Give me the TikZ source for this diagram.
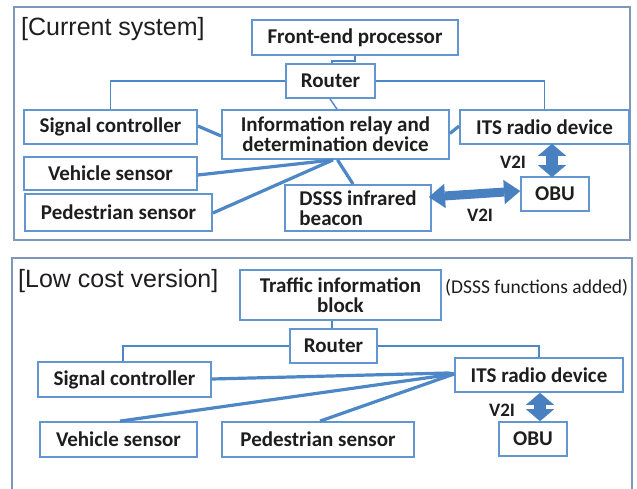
\documentclass[tikz,border=0pt]{standalone}
\usepackage{fontspec}
\setmainfont{Carlito}
\newfontfamily\labelfont{Liberation Sans}
\usetikzlibrary{arrows.meta}

\definecolor{boxline}{RGB}{98,150,208}
\definecolor{frameline}{RGB}{125,152,185}
\definecolor{linkblue}{RGB}{78,135,198}
\definecolor{arrowblue}{RGB}{72,128,192}
\definecolor{inktext}{RGB}{30,30,30}

\begin{document}
\begin{tikzpicture}[x=1pt,y=-1pt,
  box/.style={draw=boxline, line width=1.8pt, fill=white, inner sep=0pt,
    text=inktext, font=\fontsize{21}{20}\selectfont\bfseries},
  frame/.style={draw=frameline, line width=1.8pt},
  thinlink/.style={draw=linkblue, line width=1.4pt},
  thicklink/.style={draw=linkblue, line width=3.2pt},
  v2ilabel/.style={text=inktext, inner sep=0pt, font=\fontsize{19}{21}\selectfont\bfseries},
  sectionlabel/.style={anchor=base west, inner sep=0pt, text=inktext,
    font=\labelfont\fontsize{25}{28}\selectfont},
  harrow/.style={draw=arrowblue, line width=9pt,
    {Triangle[width=24pt,length=16pt,line width=0.01pt]}-{Triangle[width=24pt,length=16pt,line width=0.01pt]}},
  varrow/.style={draw=arrowblue, line width=12pt,
    {Triangle[width=28pt,length=12pt,line width=0.01pt]}-{Triangle[width=28pt,length=12pt,line width=0.01pt]}},
]
\useasboundingbox (0,0) rectangle (637,488);
\fill[white] (0,0) rectangle (637,488);

% ---------- current system ----------
\draw[frame] (14,7) rectangle (630,240);
\node[sectionlabel] (title1) at (21,35) {[Current system]};

\node[box, minimum width=206, minimum height=35] (fep) at (355,37.5) {Front-end processor};
\node[box, minimum width=89, minimum height=34] (rt1) at (330.5,81) {Router};
\node[box, minimum width=173, minimum height=34] (sc1) at (110.5,127) {Signal controller};
\node[box, minimum width=227, minimum height=49, align=center] (info) at (335.5,134.5)
  {Information relay and\\determination device};
\node[box, minimum width=169, minimum height=34] (its1) at (544.5,127) {ITS radio device};
\node[box, minimum width=173, minimum height=33] (veh1) at (110.5,173.5) {Vehicle sensor};
\node[box, minimum width=187, minimum height=37] (ped1) at (118.5,212.5) {Pedestrian sensor};
\node[box, minimum width=146, minimum height=46, align=left] (dsss) at (358,208)
  {DSSS infrared\\beacon};
\node[box, minimum width=68, minimum height=34] (obu1) at (555,194) {OBU};

% router links
\draw[thinlink] (fep.south) -- ++(0,5) -| ([xshift=1.5]rt1.north);
\draw[thinlink] (rt1.west) -| (sc1.north);
\draw[thinlink] (rt1.east) -| (its1.north);
\draw[thinlink] ([xshift=-0.5]rt1.south) -- ([xshift=1.5]info.north);

% relay device links
\draw[thicklink] ([yshift=1]sc1.east) -- ([yshift=-1.5]info.west);
\draw[thicklink] ([yshift=1]info.east) -- ([yshift=1]its1.west);
\draw[thicklink] ([yshift=-1.5]veh1.east) -- ([xshift=-2.5]info.south);
\draw[thicklink] ([yshift=-0.5]ped1.east) -- ([xshift=-2.5]info.south);
\draw[thicklink] ([xshift=-5]dsss.north) -- ([xshift=2]info.south);

% V2I radio paths
\draw[harrow] ([xshift=-3]dsss.east |- 0,197) -- ([yshift=3]obu1.west);
\draw[varrow] ([xshift=7.5,yshift=1]its1.south) -- ([xshift=-3,yshift=-1]obu1.north);
\node[v2ilabel] (v2ia) at (513,162) {V2I};
\node[v2ilabel] (v2ib) at (480,215) {V2I};

% ---------- low cost version ----------
\draw[frame] (12,500) -- (12,258) -- (632,258) -- (632,500);
\node[sectionlabel] (title2) at (18,287) {[Low cost version]};

\node[box, minimum width=201, minimum height=50, align=center] (tib) at (340.5,295)
  {Traffic information\\block};
\node[anchor=base west, inner sep=0pt, text=inktext, font=\fontsize{19.5}{22}\selectfont]
  (note) at (445,293) {(DSSS functions added)};
\node[box, minimum width=87, minimum height=34] (rt2) at (333.5,346) {Router};
\node[box, minimum width=173, minimum height=35] (sc2) at (124.5,379.5) {Signal controller};
\node[box, minimum width=168, minimum height=34] (its2) at (539,375) {ITS radio device};
\node[box, minimum width=157, minimum height=35] (veh2) at (118.5,439.5) {Vehicle sensor};
\node[box, minimum width=192, minimum height=35] (ped2) at (318,439.5) {Pedestrian sensor};
\node[box, minimum width=68, minimum height=34] (obu2) at (533,439) {OBU};

% router links
\draw[thinlink] ([xshift=-8.5]tib.south) -- ([xshift=-1.5]rt2.north);
\draw[thinlink] (rt2.west) -| ([xshift=-1.5]sc2.north);
\draw[thinlink] (rt2.east) -| (its2.north);

% radio device links
\draw[thicklink] ([yshift=0.5]sc2.east) -- ([xshift=-6,yshift=2]its2.west) -- ([yshift=1]its2.west);
\draw[thicklink] ([xshift=1.5]veh2.north) -- ([yshift=1]its2.west);
\draw[thicklink] ([xshift=2]ped2.north) -- ([yshift=1]its2.west);

% V2I radio path
\draw[varrow] ([xshift=1]its2.south) -- ([xshift=7]obu2.north);
\node[v2ilabel] (v2ic) at (502,410) {V2I};
\end{tikzpicture}
\end{document}
